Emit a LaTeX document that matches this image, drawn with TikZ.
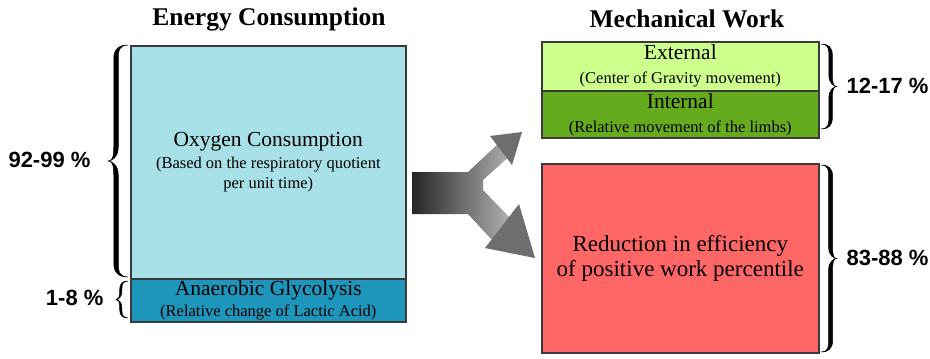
\documentclass[tikz,border=0pt]{standalone}
\usepackage{fontspec}
\setmainfont{Liberation Serif}
\newfontfamily\pctfont{Liberation Sans}
\definecolor{oxyc}{HTML}{A8E0E8}
\definecolor{anac}{HTML}{1E96BC}
\definecolor{extc}{HTML}{CCFF8C}
\definecolor{intc}{HTML}{66AA1E}
\definecolor{redc}{HTML}{FF6666}
\definecolor{edgec}{HTML}{3A3A3A}
\definecolor{headc}{HTML}{6E6E6E}
\tikzset{
  box/.style={draw=edgec, line width=1.6pt, anchor=north west, inner sep=0pt, align=center,
    font=\fontsize{16.5}{21}\selectfont},
  pct/.style={font=\pctfont\bfseries\fontsize{22}{24}\selectfont},
  ttl/.style={font=\bfseries\fontsize{25.5}{28}\selectfont},
  brcfill/.style={fill=black, draw=black, line width=0.5pt, line join=round},
}
\newcommand{\bg}{\fontsize{21.5}{24}\selectfont}
% calligraphic brace: #1 end x, #2 top y, #3 height, #4 width, #5 thickness, #6 direction (1 = tip left, -1 = tip right)
\newcommand{\calbrace}[6]{%
\begin{scope}[shift={(#1,#2)}, xscale=#6]
\fill[brcfill]
 (0,0) .. controls ({-0.45*#4},0) and ({-0.6*#4-#5/2},{0.2*#4}) .. ({-0.6*#4-#5/2},{0.7*#4})
 -- ({-0.6*#4-#5/2},{#3/2-0.7*#4})
 .. controls ({-0.6*#4-#5/2},{#3/2-0.15*#4}) and ({-0.8*#4},{#3/2}) .. ({-#4},{#3/2})
 .. controls ({-0.8*#4},{#3/2}) and ({-0.6*#4-#5/2},{#3/2+0.15*#4}) .. ({-0.6*#4-#5/2},{#3/2+0.7*#4})
 -- ({-0.6*#4-#5/2},{#3-0.7*#4})
 .. controls ({-0.6*#4-#5/2},{#3-0.2*#4}) and ({-0.45*#4},{#3}) .. (0,{#3})
 .. controls ({-0.45*#4},{#3-0.6}) and ({-0.6*#4+#5/2},{#3-0.25*#4}) .. ({-0.6*#4+#5/2},{#3-0.7*#4})
 -- ({-0.6*#4+#5/2},{#3/2+0.7*#4})
 .. controls ({-0.6*#4+#5/2},{#3/2+0.2*#4}) and ({-0.8*#4},{#3/2}) .. ({-#4},{#3/2})
 .. controls ({-0.8*#4},{#3/2}) and ({-0.6*#4+#5/2},{#3/2-0.2*#4}) .. ({-0.6*#4+#5/2},{#3/2-0.7*#4})
 -- ({-0.6*#4+#5/2},{0.7*#4})
 .. controls ({-0.6*#4+#5/2},{0.25*#4}) and ({-0.45*#4},{0.6}) .. (0,0) -- cycle;
\end{scope}}
\begin{document}
\begin{tikzpicture}[x=1pt,y=-1pt]
\useasboundingbox (0,0) rectangle (930,359);
% titles
\node[ttl] (t1) at (269,19) {Energy Consumption};
\node[ttl] (t2) at (687,19) {Mechanical Work};
% left boxes
\node[box, fill=oxyc, minimum width=275pt, minimum height=233pt] (oxy) at (130,45)
  {{\bg Oxygen Consumption}\\[1pt](Based on the respiratory quotient\\[-1pt]per unit time)};
\node[box, fill=anac, minimum width=275pt, minimum height=43pt] (ana) at (130,278)
  {{\bg Anaerobic Glycolysis}\\(Relative change of Lactic Acid)};
% right boxes
\node[box, fill=extc, minimum width=277pt, minimum height=49pt] (ext) at (541,41)
  {{\bg External}\\[3pt](Center of Gravity movement)};
\node[box, fill=intc, minimum width=277pt, minimum height=47pt] (int) at (541,90)
  {{\bg Internal}\\[3pt](Relative movement of the limbs)};
\node[box, fill=redc, minimum width=277pt, minimum height=189pt,
  font=\fontsize{23}{25}\selectfont] (red) at (541,163)
  {Reduction in efficiency\\of positive work percentile};
% braces
\calbrace{128}{45}{232}{20}{4.5}{1}
\calbrace{128}{281}{37}{12}{2.2}{1}
\calbrace{821}{44}{85}{16}{3.5}{-1}
\calbrace{821}{165}{187}{16}{4}{-1}
\node[pct, anchor=east] (p1) at (94,160) {92-99 \%};
\node[pct, anchor=east] (p2) at (107,298) {1-8 \%};
\node[pct, anchor=west] (p3) at (843,86) {12-17 \%};
\node[pct, anchor=west] (p4) at (843,258) {83-88 \%};
% split arrow
\shade[left color=black!85, right color=black!30]
  (412,172) -- (468,172) -- (500,142) -- (512,154) -- (483,180) -- (483,190)
  -- (512,220) -- (492,240) -- (468,214) -- (412,214) -- cycle;
\fill[headc] (490,136) -- (522,132) -- (512,165) -- cycle;
\fill[headc] (485,248) -- (519,204) -- (535,258) -- cycle;
\end{tikzpicture}
\end{document}
